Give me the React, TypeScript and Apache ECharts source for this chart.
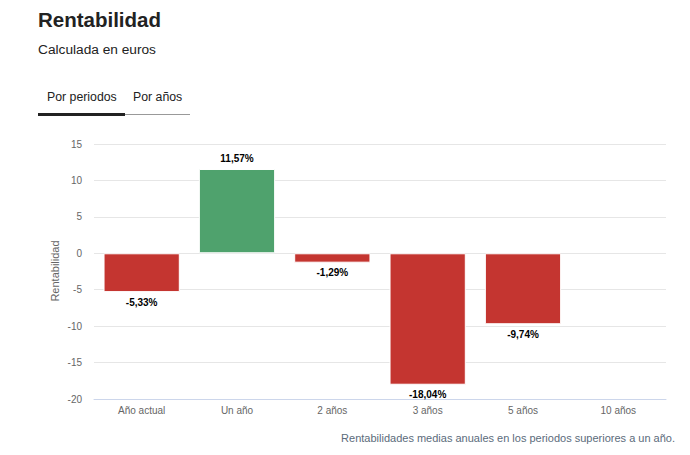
import React, { useEffect, useRef } from "react";
import * as echarts from "echarts";

const categories = ["Año actual", "Un año", "2 años", "3 años", "5 años", "10 años"];
const values: (number | null)[] = [-5.33, 11.57, -1.29, -18.04, -9.74, null];
const yTicks = { min: -20, max: 15, interval: 5 };

const FONT = "'Liberation Sans', Arial, Helvetica, sans-serif";

export default function App() {
  const ref = useRef<HTMLDivElement>(null);
  useEffect(() => {
    const chart = echarts.init(ref.current!, null, { renderer: "svg" });
    const fmt = (v: number) => v.toFixed(2).replace(".", ",") + "%";
    chart.setOption({
      animation: false,
      textStyle: { fontFamily: FONT },
      grid: { left: 94, right: 24, top: 144, bottom: 56 },
      xAxis: {
        type: "category",
        data: categories,
        axisLine: { show: true, onZero: false, lineStyle: { color: "#ccd6eb" } },
        axisTick: { show: false },
        axisLabel: { color: "#666", fontSize: 10, margin: 6, fontFamily: FONT },
      },
      yAxis: {
        type: "value",
        min: yTicks.min,
        max: yTicks.max,
        interval: yTicks.interval,
        axisLine: { show: false },
        axisTick: { show: false },
        axisLabel: { color: "#666", fontSize: 10, margin: 12, fontFamily: FONT },
        splitLine: { lineStyle: { color: "#e6e6e6" } },
      },
      series: [
        {
          type: "bar",
          barCategoryGap: "20%",
          data: values.map((v) =>
            v === null
              ? null
              : {
                  value: v,
                  itemStyle: { color: v >= 0 ? "#4fa26d" : "#c43530" },
                  label: { position: v >= 0 ? "top" : "bottom" },
                }
          ),
          itemStyle: { borderColor: "#ffffff", borderWidth: 1 },
          label: {
            show: true,
            color: "#000",
            fontSize: 10,
            fontWeight: "bold",
            fontFamily: FONT,
            distance: 5,
            formatter: (p: any) => fmt(p.value),
          },
        },
      ],
      graphic: [
        {
          type: "text",
          x: 55,
          y: 271,
          rotation: Math.PI / 2,
          style: {
            text: "Rentabilidad",
            fontSize: 11,
            fill: "#666",
            fontFamily: FONT,
            align: "center",
            verticalAlign: "middle",
          },
        },
        {
          type: "text",
          left: 38,
          top: 9,
          style: { text: "Rentabilidad", fontSize: 20.5, fontWeight: "bold", fill: "#222", fontFamily: FONT },
        },
        {
          type: "text",
          left: 38,
          top: 42,
          style: { text: "Calculada en euros", fontSize: 13.7, fill: "#222", fontFamily: FONT },
        },
        {
          type: "text",
          left: 47,
          top: 91,
          style: { text: "Por periodos", fontSize: 12.3, fill: "#222", fontFamily: FONT },
        },
        {
          type: "text",
          left: 133,
          top: 91,
          style: { text: "Por años", fontSize: 12.3, fill: "#222", fontFamily: FONT },
        },
        {
          type: "rect",
          shape: { x: 125, y: 114, width: 65, height: 1 },
          style: { fill: "#999" },
        },
        {
          type: "rect",
          shape: { x: 38, y: 113, width: 87, height: 3 },
          style: { fill: "#222" },
        },
        {
          type: "text",
          right: 15,
          top: 432,
          style: {
            text: "Rentabilidades medias anuales en los periodos superiores a un año.",
            fontSize: 11,
            fill: "#5b6b7b",
            fontFamily: FONT,
          },
        },
      ],
    });
    return () => chart.dispose();
  }, []);
  return <div ref={ref} style={{ width: 690, height: 455, position: "absolute", left: 0, top: 0 }} />;
}
